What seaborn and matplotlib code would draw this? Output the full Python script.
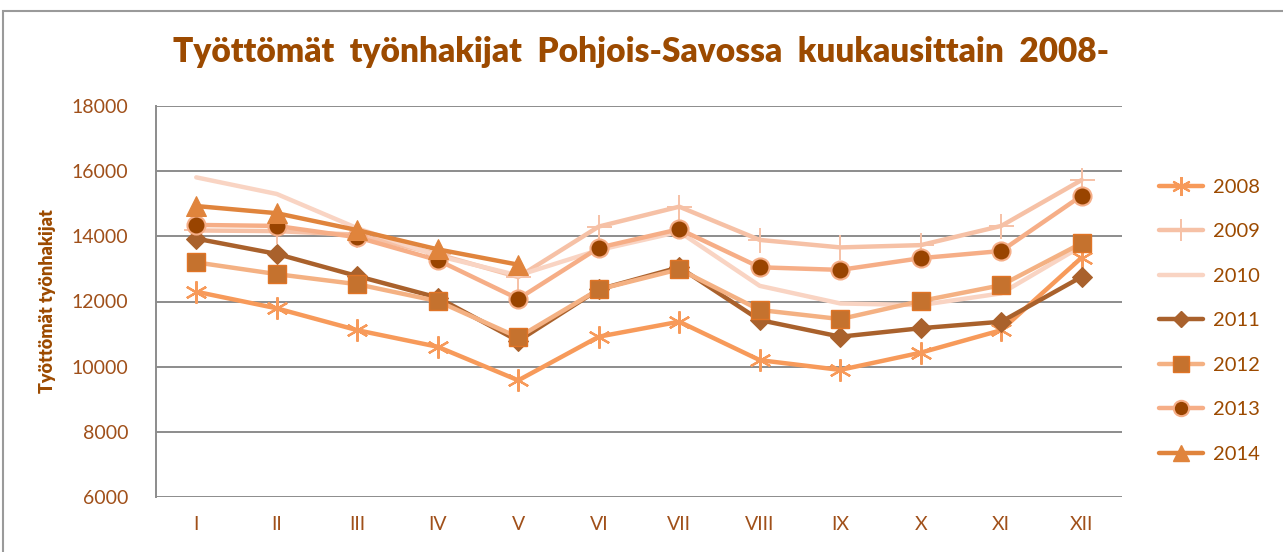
import matplotlib
matplotlib.use("Agg")
import matplotlib.pyplot as plt
import seaborn as sns
import pandas as pd
from matplotlib.patches import Rectangle
from matplotlib.lines import Line2D

months = ["I", "II", "III", "IV", "V", "VI", "VII", "VIII", "IX", "X", "XI", "XII"]
y2008 = [12300, 11790, 11120, 10610, 9580, 10920, 11380, 10200, 9900, 10430, 11120, 13350]
y2009 = [14180, 14160, 14050, 13450, 12750, 14300, 14910, 13890, 13660, 13730, 14320, 15730]
y2010 = [15810, 15300, 14250, 13400, 12800, 13580, 14140, 12480, 11940, 11890, 12250, 13700]
y2011 = [13930, 13460, 12780, 12120, 10790, 12370, 13050, 11430, 10920, 11180, 11380, 12760]
y2012 = [13200, 12840, 12530, 12010, 10900, 12370, 12990, 11740, 11460, 12015, 12500, 13790]
y2013 = [14350, 14320, 13970, 13270, 12080, 13650, 14220, 13050, 12970, 13330, 13550, 15250]
y2014 = [14930, 14710, 14190, 13600, 13130]

series = [
    ("2008", y2008, dict(color="#f79a5a", marker=(6, 2, 0), markersize=16, markeredgecolor="#f79a5a", markeredgewidth=1.6, markerfacecolor="#f79a5a")),
    ("2009", y2009, dict(color="#f6c1a6", marker="+", markersize=18, markeredgecolor="#f6c1a6", markeredgewidth=1.4)),
    ("2010", y2010, dict(color="#f9d4c3", marker=None)),
    ("2011", y2011, dict(color="#a9612c", marker="D", markersize=10, markeredgecolor="#a9612c", markerfacecolor="#a9612c")),
    ("2012", y2012, dict(color="#f4b183", marker="s", markersize=13, markeredgecolor="#e07426", markerfacecolor="#c5722e", markeredgewidth=1)),
    ("2013", y2013, dict(color="#f6ae87", marker="o", markersize=13, markeredgecolor="#f6ae87", markerfacecolor="#994400", markeredgewidth=1.5)),
    ("2014", y2014, dict(color="#e0843c", marker="^", markersize=14, markeredgecolor="#e0843c", markerfacecolor="#e0843c")),
]

sns.set_theme(style="white")
plt.rcParams["font.family"] = ["Lato", "DejaVu Sans"]

fig = plt.figure(figsize=(12.83, 5.52), dpi=100)
fig.patches.append(Rectangle((3 / 1283, -0.05), 1.2, 1 - 11 / 552 + 0.05, transform=fig.transFigure,
                             fill=False, edgecolor="#9a9a9a", linewidth=1.5))
ax = fig.add_axes([156 / 1283, 1 - 497 / 552, (1122 - 156) / 1283, (497 - 106) / 552])

handles = []
for name, vals, kw in series:
    df = pd.DataFrame({"x": range(len(vals)), "y": vals})
    kw = dict(kw)
    color = kw.pop("color")
    sns.lineplot(data=df, x="x", y="y", ax=ax, color=color, linewidth=3.2, legend=False,
                 solid_capstyle="round", **kw)
    hkw = dict(kw)
    if "markersize" in hkw:
        hkw["markersize"] = hkw["markersize"] * 0.85
    handles.append(Line2D([0], [0], color=color, linewidth=3.2, solid_capstyle="round", **hkw))

ax.set_xlim(-0.5, 11.5)
ax.set_ylim(6000, 18000)
ax.set_yticks(range(6000, 18001, 2000))
ax.set_xticks(range(12))
ax.set_xticklabels(months)
ax.yaxis.grid(True, color="#8c8c8c", linewidth=1.4)
ax.xaxis.grid(False)
for s in ["top", "right", "bottom"]:
    ax.spines[s].set_visible(False)
ax.spines["left"].set_color("#8c8c8c")
ax.spines["left"].set_linewidth(1.4)
ax.tick_params(axis="both", colors="#a0501a", labelsize=14, length=0)
ax.tick_params(axis="y", pad=20)
ax.tick_params(axis="x", pad=14)
ax.set_xlabel("")
ax.set_ylabel("Työttömät työnhakijat", fontsize=13, fontweight="heavy", color="#9c4a00", labelpad=11)

fig.text(0.500, 0.905, "Työttömät  työnhakijat  Pohjois-Savossa  kuukausittain  2008-",
         ha="center", va="center", fontsize=24, fontweight="heavy", color="#9c4a00")

leg = ax.legend(handles, [s[0] for s in series], loc="upper left", bbox_to_anchor=(1.03, 0.835),
                frameon=False, fontsize=14.5, labelspacing=1.36, handlelength=2.2, handletextpad=0.5,
                borderaxespad=0)
for t in leg.get_texts():
    t.set_color("#9c4a00")

fig.savefig("out.png", dpi=100)
